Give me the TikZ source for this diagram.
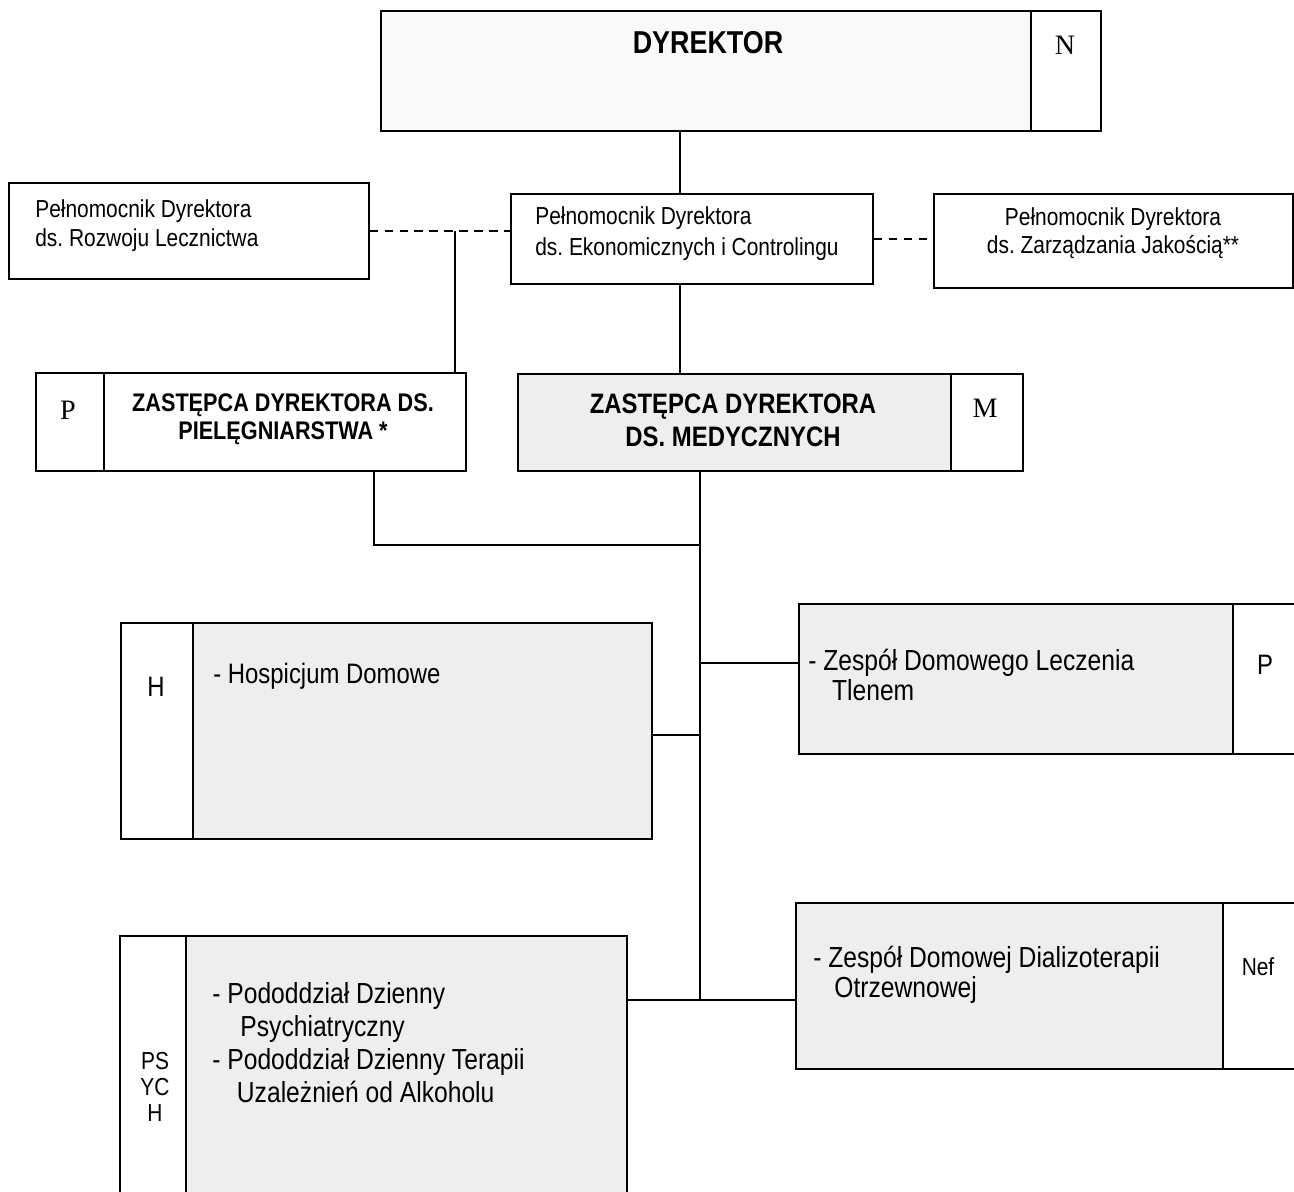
\documentclass[tikz,border=0pt]{standalone}
\usepackage{fontspec}
\setmainfont{Liberation Sans}
\newfontfamily\nsans[FakeStretch=0.85]{Liberation Sans}
\newfontfamily\tserif{Liberation Serif}
\frenchspacing
\begin{document}
\begin{tikzpicture}[x=0.02cm, y=-0.02cm,
  box/.style={draw, line width=1pt, inner sep=0pt, anchor=north west},
  shadebox/.style={box, fill=gray!13},
  lbl/.style={inner sep=0pt},
  wire/.style={line width=1pt},
  dashwire/.style={line width=1pt, dash pattern=on 5pt off 3.5pt}]
\useasboundingbox (0,0) rectangle (1294,1191);
% boxes
\node[box, fill=gray!5, minimum width=13cm, minimum height=2.4cm] (dyr) at (380,10) {};
\node[box, minimum width=1.4cm, minimum height=2.4cm] (dyrn) at (1030,10) {};
\node[box, minimum width=7.2cm, minimum height=1.92cm] (rozw) at (8,182) {};
\node[box, minimum width=7.24cm, minimum height=1.8cm] (mid) at (510,193) {};
\node[box, minimum width=7.18cm, minimum height=1.88cm] (jak) at (933,193) {};
\node[box, minimum width=1.36cm, minimum height=1.96cm] (pside) at (35,372) {};
\node[box, minimum width=7.24cm, minimum height=1.96cm] (pmain) at (103,372) {};
\node[shadebox, minimum width=8.66cm, minimum height=1.94cm] (mmain) at (517,373) {};
\node[box, minimum width=1.44cm, minimum height=1.94cm] (mside) at (950,373) {};
\node[box, minimum width=1.44cm, minimum height=4.32cm] (hside) at (120,622) {};
\node[shadebox, minimum width=9.18cm, minimum height=4.32cm] (hmain) at (192,622) {};
\node[shadebox, minimum width=8.68cm, minimum height=3cm] (tmain) at (798,603) {};
\node[box, minimum width=1.6cm, minimum height=3cm] (tside) at (1232,603) {};
\node[shadebox, minimum width=8.54cm, minimum height=3.32cm] (nmain) at (795,902) {};
\node[box, minimum width=1.8cm, minimum height=3.32cm] (nside) at (1222,902) {};
\node[box, minimum width=1.32cm, minimum height=5.6cm] (psside) at (119,935) {};
\node[shadebox, minimum width=8.82cm, minimum height=5.6cm] (psmain) at (185,935) {};
% junction coordinates
\coordinate (xa) at (680,0);
\coordinate (xb) at (455,0);
\coordinate (xc) at (374,0);
\coordinate (xd) at (700,0);
\coordinate (ya) at (0,545);
\coordinate (yb) at (0,1000);
\coordinate (yc) at (0,663);
\coordinate (yh) at (0,735);
% connectors
\draw[wire] (xa |- dyr.south) -- (xa |- mid.north);
\draw[dashwire] (rozw.east) -- (rozw.east -| mid.west);
\draw[dashwire] (mid.east) -- (mid.east -| jak.west);
\draw[wire] (xb |- rozw.east) -- (xb |- pmain.north);
\draw[wire] (xa |- mid.south) -- (xa |- mmain.north);
\draw[wire] (xc |- pmain.south) -- (xc |- ya) -- (xd |- ya);
\draw[wire] (xd |- mmain.south) -- (xd |- yb);
\draw[wire] (xd |- yc) -- (yc -| tmain.west);
\draw[wire] (hmain.east |- yh) -- (xd |- yh);
\draw[wire] (psmain.east |- yb) -- (yb -| nmain.west);
% texts
\node[lbl, font=\nsans\bfseries\fontsize{18}{20}\selectfont] (tdyr) at (708,43) {DYREKTOR};
\node[lbl, font=\tserif\fontsize{16}{18}\selectfont] (tn) at (1065,45) {N};
\node[lbl, anchor=west, align=left, font=\nsans\fontsize{14}{16.5}\selectfont] (trozw) at (35,226) {Pełnomocnik Dyrektora\\ds. Rozwoju Lecznictwa};
\node[lbl, anchor=west, align=left, font=\nsans\fontsize{14}{17.5}\selectfont] (tmid) at (535,234) {Pełnomocnik Dyrektora\\ds. Ekonomicznych i Controlingu};
\node[lbl, align=center, font=\nsans\fontsize{14}{16}\selectfont] (tjak) at (1113,233) {Pełnomocnik Dyrektora\\ds. Zarządzania Jakością**};
\node[lbl, font=\tserif\fontsize{16}{18}\selectfont] (tp) at (68,410) {P};
\node[lbl, align=center, font=\nsans\bfseries\fontsize{14.5}{16}\selectfont] (tpm) at (283,419) {ZASTĘPCA DYREKTORA DS.\\PIELĘGNIARSTWA *};
\node[lbl, align=center, font=\nsans\bfseries\fontsize{16}{18.8}\selectfont] (tmm) at (733,420) {ZASTĘPCA DYREKTORA\\DS. MEDYCZNYCH};
\node[lbl, font=\tserif\fontsize{16}{18}\selectfont] (tm) at (985,408) {M};
\node[lbl, font=\nsans\fontsize{16}{18}\selectfont] (th) at (156,687) {H};
\node[lbl, anchor=west, font=\nsans\fontsize{16}{18}\selectfont] (thm) at (213,676) {- Hospicjum Domowe};
\node[lbl, anchor=west, align=left, font=\nsans\fontsize{16.5}{17}\selectfont] (ttm) at (808,675) {- Zespół Domowego Leczenia\\\hspace*{13.5pt}Tlenem};
\node[lbl, font=\nsans\fontsize{16}{18}\selectfont] (tts) at (1265,665) {P};
\node[lbl, anchor=west, align=left, font=\nsans\fontsize{16.5}{17}\selectfont] (tnm) at (813,975) {- Zespół Domowej Dializoterapii\\\hspace*{12pt}Otrzewnowej};
\node[lbl, font=\nsans\fontsize{14}{16}\selectfont] (tns) at (1258,967) {Nef};
\node[lbl, align=center, font=\nsans\fontsize{14}{15}\selectfont] (tps) at (155,1087) {PS\\YC\\H};
\node[lbl, anchor=west, align=left, font=\nsans\fontsize{16.5}{18.8}\selectfont] (tpsm) at (212,1043) {- Pododdział Dzienny\\\hspace*{16pt}Psychiatryczny\\- Pododdział Dzienny Terapii\\\hspace*{14pt}Uzależnień od Alkoholu};
\end{tikzpicture}
\end{document}
